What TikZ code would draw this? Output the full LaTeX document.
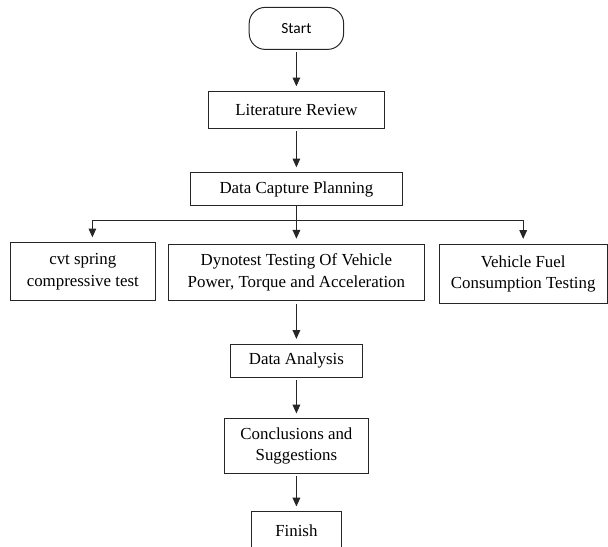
\documentclass[tikz,border=0pt]{standalone}
\usepackage{fontspec}
\setmainfont{Liberation Serif}
\newfontfamily\calfont{Carlito}
\usepackage{tikz}
\usetikzlibrary{positioning,arrows.meta,calc}

\begin{document}
\begin{tikzpicture}[font=\fontsize{12}{15.4}\selectfont,
  box/.style={draw=black!85, line width=0.7pt, align=center, inner sep=1pt},
  arr/.style={draw=black!85, line width=0.8pt, -{Triangle[length=2.2mm, width=1.9mm]}, shorten <=0.06cm, shorten >=0.12cm}]
\useasboundingbox (0,0) rectangle (15.2,-13.675);
\node[box, rounded corners=0.4cm, minimum width=2.36cm, minimum height=1.05cm, font=\calfont\fontsize{11}{13}\selectfont] (start) at (7.41,-0.71) {Start};
\node[box, minimum width=4.38cm, minimum height=0.92cm] (lit) at (7.41,-2.75) {Literature Review};
\node[box, minimum width=5.32cm, minimum height=0.83cm] (plan) at (7.41,-4.73) {Data Capture Planning};
\node[box, minimum width=3.61cm, minimum height=1.45cm] (cvt) at (2.07,-6.79) {cvt spring\\compressive test};
\node[box, minimum width=6.39cm, minimum height=1.42cm] (dyno) at (7.41,-6.81) {Dynotest Testing Of Vehicle\\Power, Torque and Acceleration};
\node[box, minimum width=4.2cm, minimum height=1.49cm] (fuel) at (13.08,-6.85) {Vehicle Fuel\\Consumption Testing};
\node[box, minimum width=3.31cm, minimum height=0.83cm] (anal) at (7.41,-9.02) {Data Analysis};
\node[box, minimum width=3.62cm, minimum height=1.36cm] (concl) at (7.41,-11.15) {Conclusions and\\Suggestions};
\node[box, minimum width=2.25cm, minimum height=0.95cm] (finish) at (7.41,-13.27) {Finish};

\draw[arr] (start) -- (lit);
\draw[arr] (lit) -- (plan);
% branch to the three tests
\draw[draw=black!85, line width=0.8pt] (plan.south) -- ++(0,-0.36) coordinate (split);
\draw[arr, shorten <=0pt] (split) -| ([xshift=0.24cm]cvt.north);
\draw[arr, shorten <=0pt] (split) -- (dyno.north);
\draw[arr, shorten <=0pt] (split) -| (fuel.north);
\draw[arr] (dyno) -- (anal);
\draw[arr] (anal) -- (concl);
\draw[arr] (concl) -- (finish);
\end{tikzpicture}
\end{document}
